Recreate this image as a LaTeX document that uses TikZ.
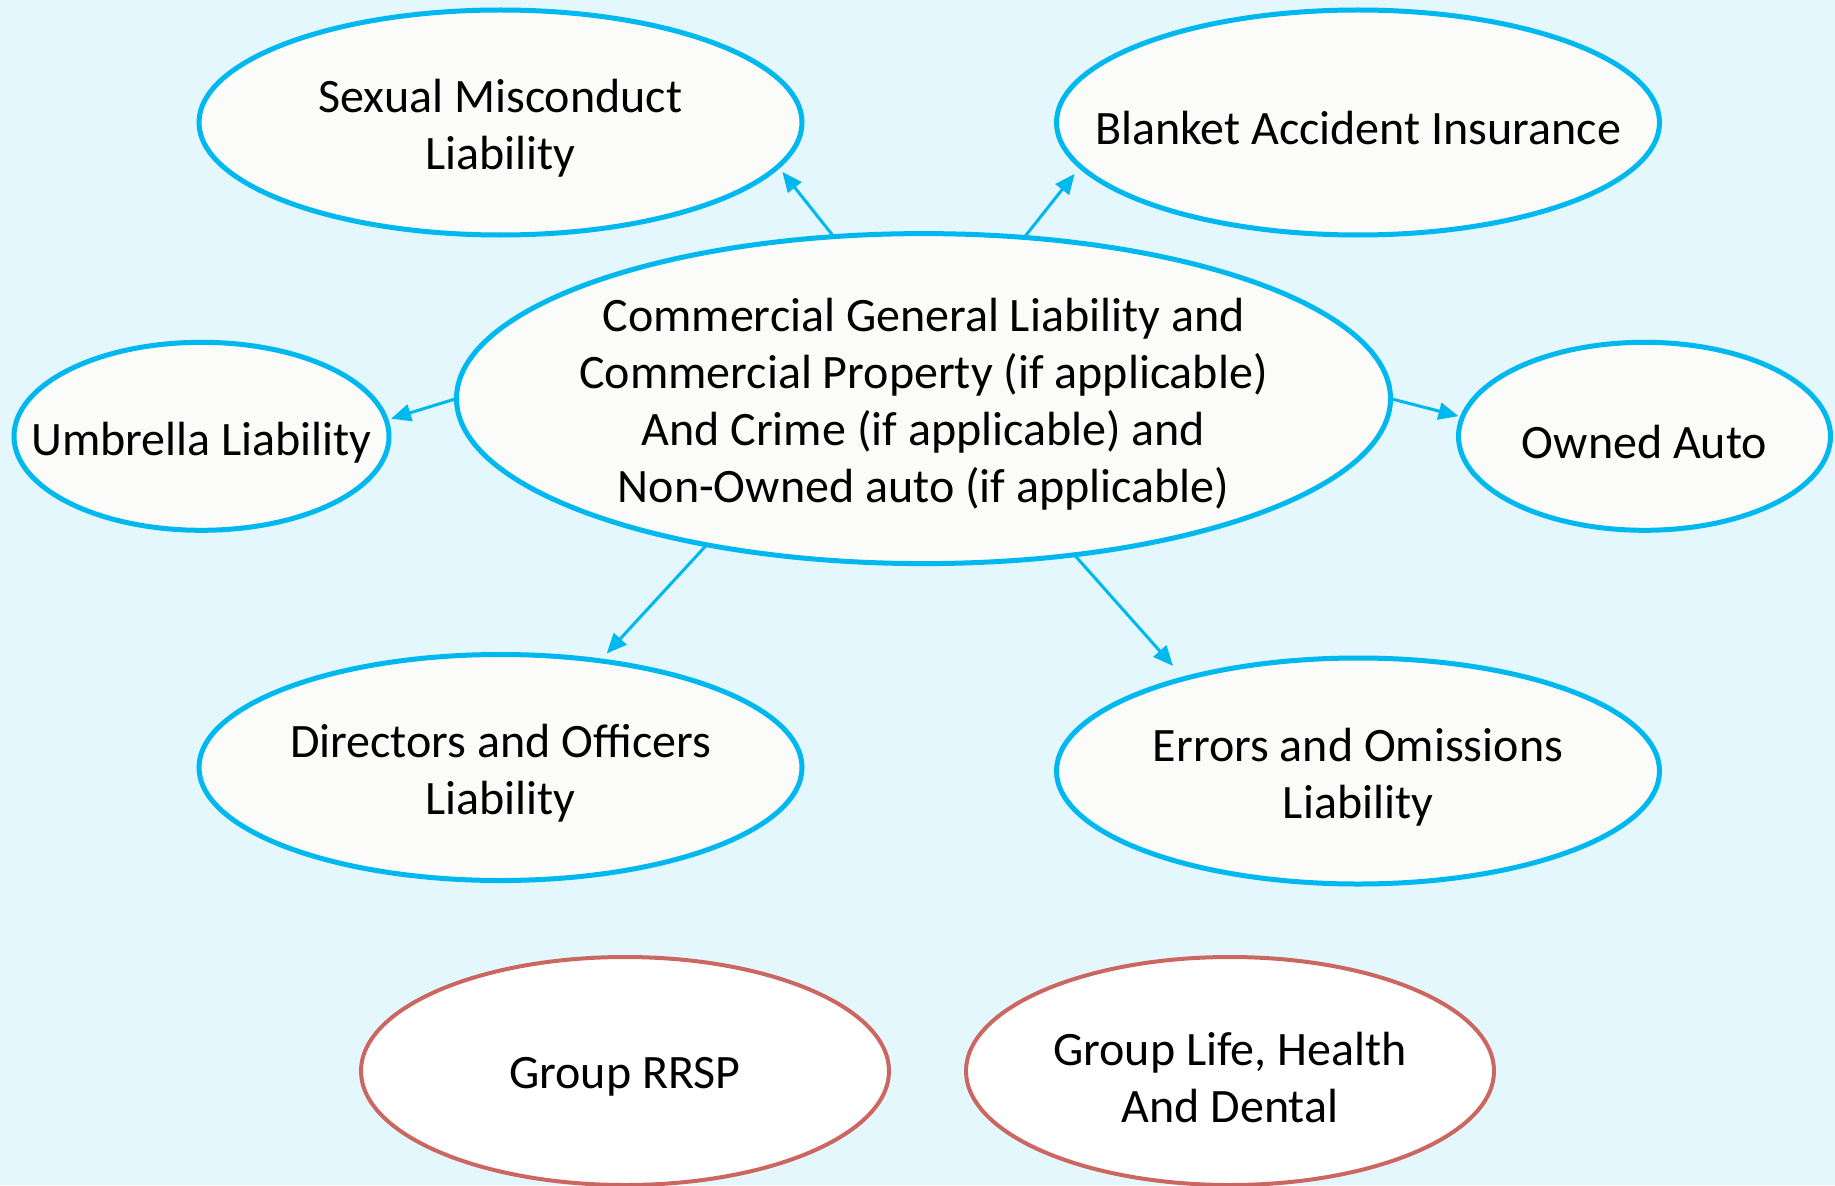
\documentclass[tikz,border=0pt]{standalone}
\usepackage{fontspec}
\setmainfont{Carlito}
\usetikzlibrary{shapes.geometric,arrows.meta}
\definecolor{bg}{RGB}{227,247,253}
\definecolor{cyanline}{RGB}{0,184,240}
\definecolor{redline}{RGB}{204,102,96}
\definecolor{ovalfill}{RGB}{251,251,249}
\begin{document}
\begin{tikzpicture}[x=1pt,y=-1pt,
  oval/.style={ellipse, draw=cyanline, line width=5pt, fill=ovalfill, inner sep=0pt, outer sep=0pt},
  redoval/.style={ellipse, draw=redline, line width=4pt, fill=white, inner sep=0pt, outer sep=0pt},
  lbl/.style={align=center, font=\fontsize{48}{57}\selectfont, inner sep=0pt, yshift=-6pt},
  arr/.style={draw=cyanline, line width=3pt, -{Triangle[length=20pt,width=17pt]}}]
\useasboundingbox (0,0) rectangle (1835,1185);
\fill[bg] (0,0) rectangle (1835,1185);

\node[oval, minimum width=934pt, minimum height=330pt] (main) at (923.5,398.6) {};
\node[lbl] (maint) at (main.center) {Commercial General Liability and\\Commercial Property (if applicable)\\And Crime (if applicable) and\\Non-Owned auto (if applicable)};

\node[oval, minimum width=603pt, minimum height=225pt] (sexual) at (500.5,122.5) {};
\node[lbl] (sexualt) at (sexual.center) {Sexual Misconduct\\Liability};

\node[oval, minimum width=603pt, minimum height=225pt] (blanket) at (1358,122.5) {};
\node[lbl] (blankett) at (blanket.center) {Blanket Accident Insurance};

\node[oval, minimum width=375pt, minimum height=188pt] (umbrella) at (201.5,436.3) {};
\node[lbl] (umbrellat) at (umbrella.center) {Umbrella Liability};

\node[oval, minimum width=372pt, minimum height=188pt] (owned) at (1644.5,436.3) {};
\node[lbl] (ownedt) at (owned.center) {Owned Auto};

\node[oval, minimum width=603pt, minimum height=226pt] (directors) at (500.5,767.5) {};
\node[lbl] (directorst) at (directors.center) {Directors and Officers\\Liability};

\node[oval, minimum width=603pt, minimum height=226pt] (errors) at (1358,771) {};
\node[lbl] (errorst) at (errors.center) {Errors and Omissions\\Liability};

\node[redoval, minimum width=528pt, minimum height=228pt] (rrsp) at (625,1071) {};
\node[lbl] (rrspt) at (rrsp.center) {Group RRSP};

\node[redoval, minimum width=528pt, minimum height=228pt] (life) at (1230,1071) {};
\node[lbl] (lifet) at (life.center) {Group Life, Health\\And Dental};

\draw[arr, shorten >=7pt] (main.119.9) -- (sexual.-9.3);
\draw[arr, shorten >=9.5pt] (main.58.4) -- (blanket.-171.3);
\draw[arr, shorten >=5pt] (main.180) -- (umbrella.5.4);
\draw[arr, shorten >=4pt] (main.0) -- (owned.174.4);
\draw[arr, shorten >=10pt] (main.-146.4) -- (directors.47.0);
\draw[arr, shorten >=17pt] (main.-46.1) -- (errors.152.2);
\end{tikzpicture}
\end{document}
